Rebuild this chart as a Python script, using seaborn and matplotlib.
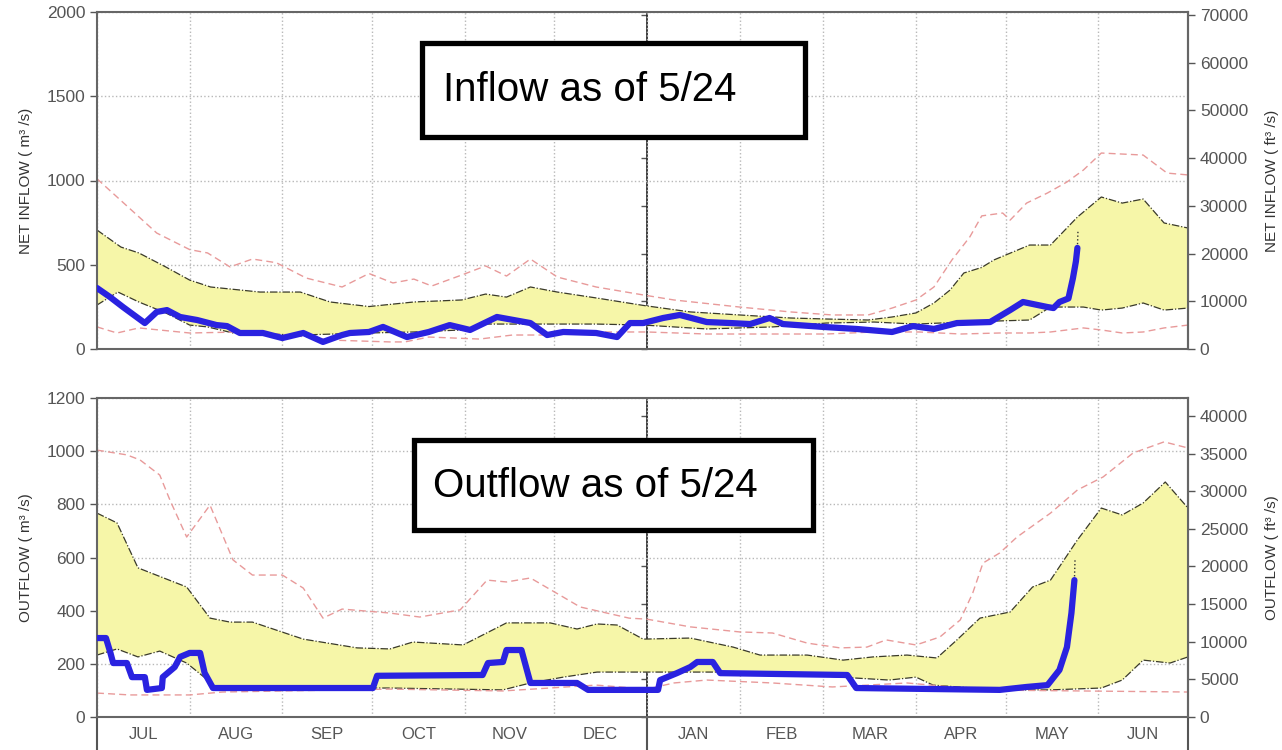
import numpy as np
import pandas as pd
import matplotlib
matplotlib.use('Agg')
import matplotlib.pyplot as plt
import seaborn as sns
from matplotlib.patches import Rectangle

# water year starting Jul 1, x = day number
month_names = ['JUL', 'AUG', 'SEP', 'OCT', 'NOV', 'DEC', 'JAN', 'FEB', 'MAR', 'APR', 'MAY', 'JUN']
month_start = [0, 31, 62, 92, 123, 153, 184, 215, 243, 274, 304, 335, 365]

# ---- net inflow (m3/s) ----
in_max = [(0, 1010), (20, 688), (31, 590), (37, 570), (44.5, 487), (52, 534), (60, 512), (70, 421),
          (82, 368), (91, 448), (99, 392), (106, 415), (112, 374), (122, 439), (130, 493), (137, 433),
          (145, 534), (154, 427), (167, 368), (183, 320), (193, 291), (215, 249), (232, 220), (246, 202),
          (258, 202), (266, 243), (274, 291), (280, 368), (286, 528), (292, 665), (296, 790), (303, 807),
          (305.5, 765), (311, 866), (318, 926), (324.5, 991), (330, 1062), (336, 1163), (350, 1151),
          (358, 1044), (365, 1033)]
in_hi = [(0, 706), (8, 605), (14, 570), (23, 487), (31, 409), (38, 368), (54.5, 338), (68, 338), (78, 279),
         (91, 252), (106, 279), (122, 291), (130, 326), (137, 308), (145, 368), (154, 338), (167, 303),
         (183, 258), (198.5, 220), (215, 202), (232, 184), (244, 178), (258, 172), (266, 190), (274, 214),
         (280, 273), (285.4, 350), (290, 451), (296, 484), (300, 528), (312, 617), (319, 617), (328, 783),
         (336, 902), (343, 866), (350, 890), (357, 748), (365, 718)]
in_lo = [(0, 261), (7, 338), (14, 279), (23, 214), (31, 142), (37, 131), (45.5, 95), (68, 83), (91, 95),
         (106, 101), (122, 113), (130, 148), (167, 148), (183, 142), (204, 119), (226, 131), (244, 154),
         (260, 160), (274, 148), (290, 160), (312, 172), (319, 249), (330, 249), (336, 231), (343, 243),
         (350, 273), (357, 231), (365, 243)]
in_min = [(0, 131), (6.7, 95), (14, 125), (31, 95), (48, 101), (64.6, 83), (78, 53), (98, 42), (103, 42),
          (111, 71), (128, 59), (139, 83), (150.6, 83), (167, 101), (184, 101), (204, 89), (226, 89),
          (244, 89), (260, 101), (275, 101), (289, 89), (302, 95), (312, 95), (319, 101), (330, 125),
          (336, 113), (343, 95), (350, 101), (357, 125), (365, 142)]
in_now = [(0, 362), (4.3, 309), (8.7, 249), (16, 154), (20, 220), (23.4, 231), (27.8, 190), (33.5, 172),
          (40, 142), (43.5, 136), (47.8, 95), (55.5, 95), (62, 65), (69, 95), (75.6, 42), (82, 83),
          (84.6, 95), (91, 101), (95.7, 131), (103.7, 71), (111, 101), (118, 142), (124.8, 113),
          (133.8, 190), (145, 154), (150.6, 83), (156, 101), (167, 95), (174, 71), (178.3, 154),
          (182.7, 154), (189.4, 184), (195, 202), (204, 160), (212, 154), (218.5, 148), (225, 184),
          (229.5, 148), (243, 131), (254, 119), (266, 101), (273, 136), (280, 119), (287.7, 154),
          (298.8, 160), (305.5, 231), (309.8, 279), (318, 249), (320, 243), (322, 279), (325, 300),
          (326.5, 420), (327.5, 520), (328, 600)]
in_fc = [(328, 600), (328.2, 706)]

# ---- outflow (m3/s) ----
out_max = [(0, 1004), (10, 986), (14.4, 967), (21, 910), (24.4, 816), (30, 677), (37.8, 797), (45.5, 591),
           (52, 534), (62, 534), (69, 485), (75.6, 372), (82, 406), (98, 391), (108, 376), (121.5, 403),
           (130.5, 515), (137, 508), (145, 523), (156, 451), (161.6, 414), (178, 372), (184, 368),
           (198.5, 339), (215, 320), (226, 316), (237.6, 278), (248.6, 260), (257.6, 263), (264, 290),
           (274, 271), (282, 301), (288.8, 365), (293, 467), (296.4, 579), (302, 617), (307.8, 677),
           (319, 767), (328, 854), (336.6, 903), (346.6, 993), (357, 1035), (365, 1012)]
out_hi = [(0, 767), (6.7, 730), (13.7, 561), (30, 489), (37.8, 372), (44.5, 357), (52, 357), (69, 293),
          (87, 260), (98, 256), (105.7, 282), (122.5, 271), (137, 354), (151.6, 354), (160.6, 331),
          (167.3, 350), (174, 346), (182.7, 293), (198.5, 297), (212.8, 263), (221.8, 233), (237.6, 233),
          (249.6, 214), (259.6, 226), (271, 233), (281, 222), (287.7, 290), (295.4, 372), (305.5, 395),
          (313, 489), (319, 515), (328, 666), (336, 786), (343, 760), (350, 805), (357.4, 884), (365, 786)]
out_lo = [(0, 233), (6.7, 256), (13.7, 226), (21, 248), (30, 203), (37.8, 132), (40, 109), (98, 109),
          (135.8, 102), (145, 128), (156, 150), (167.3, 169), (226, 169), (248.6, 150), (265, 139),
          (274, 150), (279.7, 120), (293, 109), (302, 102), (319, 102), (336, 109), (343, 139), (350, 214),
          (359, 203), (365, 226)]
out_min = [(0, 90), (11, 83), (31, 83), (42, 94), (98, 105), (135.8, 98), (167, 120), (184, 105),
           (193, 128), (204, 139), (226, 128), (246, 113), (271, 128), (282, 117), (293, 102), (365, 94)]
out_now = [(0, 297), (3, 297), (4.5, 241), (5.4, 203), (10, 203), (11.7, 150), (16, 150), (16.7, 102),
           (21.7, 109), (22, 150), (26, 188), (27.8, 226), (31, 241), (34.5, 241), (36, 166), (38.8, 109),
           (92.3, 109), (93.7, 155), (129, 158), (130.8, 203), (135.8, 207), (137, 252), (142, 252),
           (145, 128), (160.6, 128), (164.3, 102), (187.7, 102), (188.4, 139), (194, 165), (198.5, 188),
           (200.8, 207), (206, 207), (208.5, 165), (251, 158), (254, 109), (302, 102), (311, 113),
           (318, 120), (322, 177), (324.5, 263), (326, 391), (327, 515)]
out_fc = [(327, 515), (327.2, 591)]

CFS = 35.3147
GRAY = '#555555'


def df(pts):
    return pd.DataFrame(pts, columns=['day', 'q'])


def to_cfs(v):
    return v * CFS


def to_cms(v):
    return v / CFS


def panel(ax, mx, hi, lo, mn, now, fc, ymax, ystep, rstep, lab, rlab, bottom):
    h, l = df(hi), df(lo)
    ax.fill(np.concatenate([h.day, l.day[::-1]]), np.concatenate([h.q, l.q[::-1]]),
            color='#f6f6a8', lw=0, zorder=1)
    for d in (hi, lo):
        sns.lineplot(data=df(d), x='day', y='q', ax=ax, color='#3a3a2a', lw=0.9,
                     linestyle=(0, (6, 1.5, 1, 1.5)), estimator=None, sort=False, zorder=2)
    for d in (mx, mn):
        sns.lineplot(data=df(d), x='day', y='q', ax=ax, color='#e89a9a', lw=1.0,
                     linestyle=(0, (5, 3)), estimator=None, sort=False, zorder=2)
    sns.lineplot(data=df(now), x='day', y='q', ax=ax, color='#2a22e0', lw=4.5,
                 estimator=None, sort=False, zorder=4, solid_joinstyle='round')
    sns.lineplot(data=df(fc), x='day', y='q', ax=ax, color='#333333', lw=1.0,
                 linestyle=':', estimator=None, sort=False, zorder=3)

    ax.set_xlim(0, 365)
    ax.set_ylim(0, ymax)
    ax.set_yticks(np.arange(0, ymax + 1, ystep))
    ax.set_xticks(month_start)
    ax.set_xticklabels([])
    ax.grid(True, which='major', ls=':', color='#b8b8b8', lw=1.0)
    ax.set_xlabel('')
    ax.set_ylabel(lab, fontsize=11, color='#333333', labelpad=10)
    ax.tick_params(axis='y', left=True, direction='out', length=5, width=1, color=GRAY,
                   labelcolor=GRAY, labelsize=12.5)
    ax.tick_params(axis='x', which='both', length=0)
    for s in ax.spines.values():
        s.set_color('#666666')
        s.set_linewidth(1.5)

    sec = ax.secondary_yaxis('right', functions=(to_cfs, to_cms))
    sec.set_yticks(np.arange(0, to_cfs(ymax) + 1, rstep))
    sec.tick_params(right=True, direction='out', length=5, width=1, color=GRAY,
                    labelcolor=GRAY, labelsize=12.5)
    sec.spines['right'].set_color('#666666')
    sec.spines['right'].set_linewidth(1.5)
    sec.set_ylabel(rlab, fontsize=11, color='#333333', labelpad=12)

    div = ax.secondary_yaxis(month_start[6] / 365, functions=(to_cfs, to_cms))
    div.set_yticks(np.arange(0, to_cfs(ymax) + 1, rstep))
    div.yaxis.set_ticks_position('left')
    div.tick_params(direction='out', length=4, width=1, color=GRAY, labelleft=False, labelright=False)
    div.spines['left'].set_color('#555555')
    div.spines['left'].set_linewidth(1.5)

    if bottom:
        mids = [(a + b) / 2 for a, b in zip(month_start[:-1], month_start[1:])]
        ax.set_xticks(mids, minor=True)
        ax.set_xticklabels(month_names, minor=True)
        ax.tick_params(axis='x', which='minor', labelsize=12, labelcolor=GRAY, pad=7)
        for x in (month_start[0], month_start[6], month_start[-1]):
            ax.axvline(x, ymin=-0.11, ymax=0, clip_on=False, color='#555555', lw=1.5)


sns.set_theme(style='white')
plt.rcParams['font.family'] = ['Liberation Sans', 'DejaVu Sans']

fig = plt.figure(figsize=(12.82, 7.5), dpi=100)
ax1 = fig.add_axes([97 / 1282, 1 - 349 / 750, 1091 / 1282, 337 / 750])
ax2 = fig.add_axes([97 / 1282, 1 - 717 / 750, 1091 / 1282, 319 / 750])

panel(ax1, in_max, in_hi, in_lo, in_min, in_now, in_fc, 2000, 500, 10000,
      'NET INFLOW ( m³ /s)', 'NET INFLOW ( ft³ /s)', False)
panel(ax2, out_max, out_hi, out_lo, out_min, out_now, out_fc, 1200, 200, 5000,
      'OUTFLOW ( m³ /s)', 'OUTFLOW ( ft³ /s)', True)

# annotation boxes
for (x0, y0, x1, y1, tx, ty, txt) in [(422, 43, 805, 137, 443, 90, 'Inflow as of 5/24'),
                                      (414, 440, 813, 530, 433, 486, 'Outflow as of 5/24')]:
    fig.patches.append(Rectangle((x0 / 1282, 1 - y1 / 750), (x1 - x0) / 1282, (y1 - y0) / 750,
                                 transform=fig.transFigure, facecolor='white', edgecolor='black',
                                 lw=3.8, zorder=5))
    fig.text(tx / 1282, 1 - ty / 750, txt, fontsize=29, va='center', ha='left', color='black', zorder=6)

plt.savefig('out.png', dpi=100)
